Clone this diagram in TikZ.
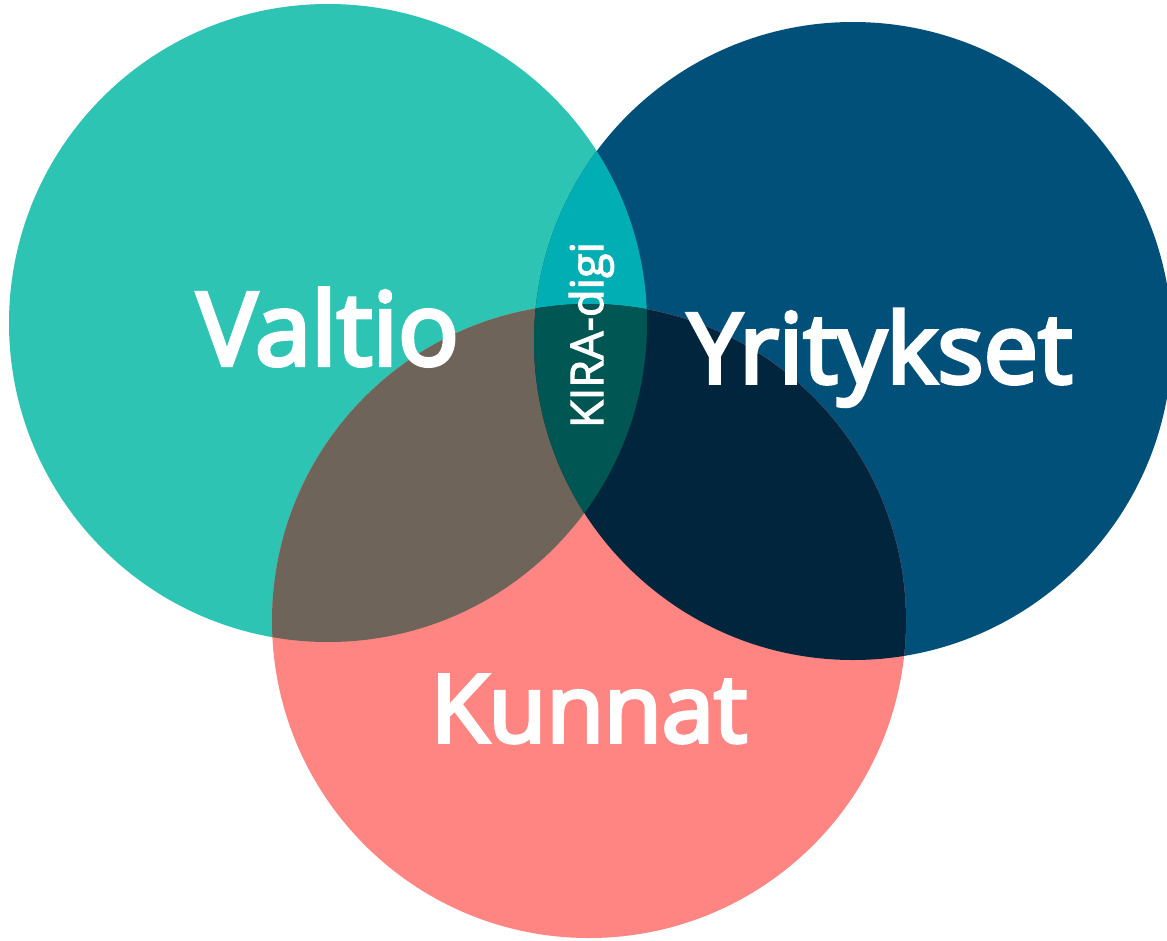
\documentclass[tikz,border=0pt]{standalone}
\usepackage{fontspec}
\setmainfont{Open Sans}
\newfontfamily\lblfont{Open Sans}[FakeBold=4]
\newfontfamily\kirafont{Open Sans}[FakeBold=2.5]
\definecolor{cValtio}{HTML}{2EC4B3}
\definecolor{cYrit}{HTML}{00507A}
\definecolor{cKunnat}{HTML}{FF8583}
\definecolor{cVY}{HTML}{00AEB4}
\definecolor{cVK}{HTML}{6E6459}
\definecolor{cYK}{HTML}{00253C}
\definecolor{cAll}{HTML}{005652}
\tikzset{
  lbl/.style={text=white, inner sep=0pt},
}
\newcommand{\circV}{(328,323) circle [radius=319pt]}
\newcommand{\circY}{(853,341) circle [radius=319pt]}
\newcommand{\circK}{(589,621) circle [radius=317pt]}
\begin{document}
\begin{tikzpicture}[x=1pt,y=-1pt]
\useasboundingbox (0,0) rectangle (1167,940);
\clip (0,0) rectangle (1167,940);
\coordinate (cv) at (328,323);
\coordinate (cy) at (853,341);
\coordinate (ck) at (589,621);
\fill[cValtio] \circV;
\fill[cYrit] \circY;
\fill[cKunnat] \circK;
\begin{scope}\clip \circV; \fill[cVY] \circY; \end{scope}
\begin{scope}\clip \circV; \fill[cVK] \circK; \end{scope}
\begin{scope}\clip \circY; \fill[cYK] \circK; \end{scope}
\begin{scope}\clip \circV; \clip \circY; \fill[cAll] \circK; \end{scope}
\node[lbl, anchor=base, font=\lblfont\fontsize{101}{101}\selectfont] (valtio) at (328,365) {Valtio};
\node[lbl, anchor=base, font=\lblfont\fontsize{97}{97}\selectfont] (yritykset) at (880,383) {Yritykset};
\node[lbl, anchor=base, font=\lblfont\fontsize{94}{94}\selectfont] (kunnat) at (589,742) {Kunnat};
\node[lbl, anchor=base, rotate=90, font=\kirafont\fontsize{45}{45}\selectfont] (kira) at (603,335) {KIRA-digi};
\end{tikzpicture}
\end{document}
